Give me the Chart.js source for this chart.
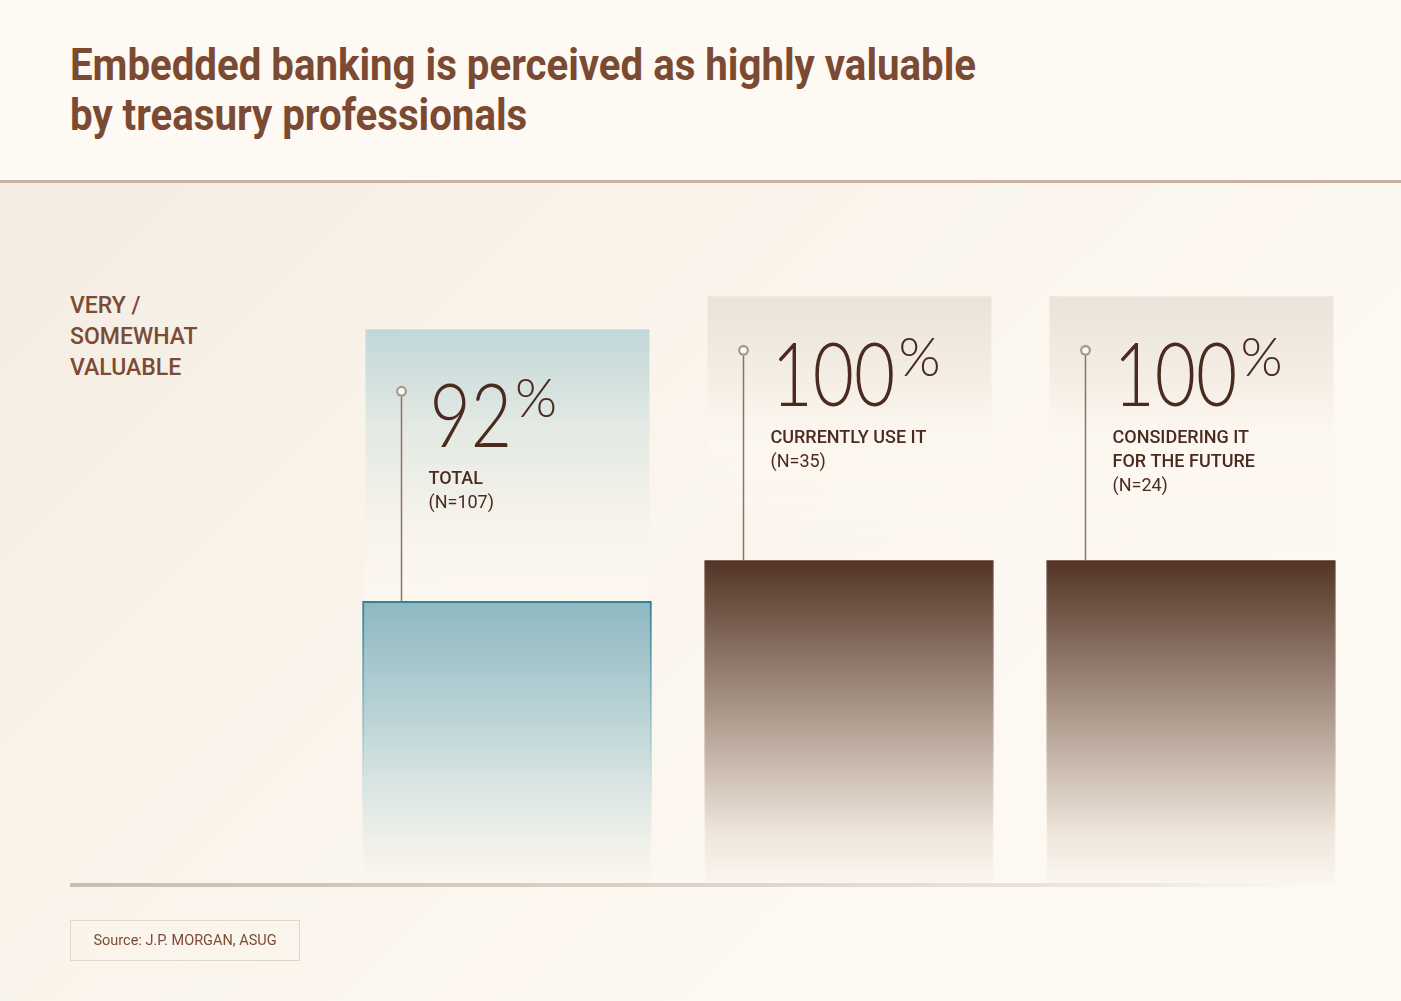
<!DOCTYPE html>
<html>
<head>
<meta charset="utf-8">
<script src="https://cdn.jsdelivr.net/npm/chart.js@4"></script>
<style>
  html, body { margin: 0; padding: 0; }
  body {
    width: 1401px; height: 1001px; position: relative; overflow: hidden;
    background: linear-gradient(135deg, #f3eadf 0%, #f9f3ea 35%, #fdf8f1 70%, #fef9f2 100%);
    font-family: Roboto, sans-serif;
  }
  #header {
    position: absolute; left: 0; top: 0; width: 1401px; height: 180px;
    background: #fef9f2; border-bottom: 3px solid #c8b2a4;
  }
  #title {
    position: absolute; left: 70px; top: 40px; margin: 0;
    font-family: Roboto, sans-serif;
    font-weight: 700; font-size: 45px; line-height: 50px; color: #7b4a33;
    white-space: nowrap; transform-origin: 0 0;
  }
  #sideLabel {
    position: absolute; left: 70px; top: 290px;
    font-family: Roboto, sans-serif; font-weight: 500; font-size: 23px;
    line-height: 31px; color: #7b4b35;
  }
  #source {
    position: absolute; left: 70px; top: 920px; width: 230px; height: 41px;
    border: 1.5px solid #e5d5c5; box-sizing: border-box;
    font-size: 14.5px; color: #7b4b35; text-align: center; line-height: 39px;
  }
  #chart { position: absolute; left: 0; top: 0; }
</style>
</head>
<body>
<div id="header">
  <h1 id="title">Embedded banking is perceived as highly valuable<br>by treasury professionals</h1>
</div>
<div id="sideLabel">VERY /<br>SOMEWHAT<br>VALUABLE</div>
<canvas id="chart" width="1401" height="1001"></canvas>
<div id="source">Source: J.P. MORGAN, ASUG</div>

<script>
// Chart data
var groupLabels = [["TOTAL"], ["CURRENTLY USE IT"], ["CONSIDERING IT", "FOR THE FUTURE"]];
var sampleSizes = ["(N=107)", "(N=35)", "(N=24)"];
var valuablePct = [92, 100, 100];

// the title face is narrow in the original, squeeze Roboto to the same width
(function () {
  var t = document.getElementById("title");
  var w = t.getBoundingClientRect().width;
  t.style.transform = "scaleX(" + (906 / w) + ")";
})();

// teal for the total, brown for the two sub-groups
function isTotal(i) { return i === 0; }

function barFill(c) {
  if (c.type !== "data" || !c.chart.chartArea) return "#8db7c0";
  var y = c.chart.scales.y;
  var top = y.getPixelForValue(c.raw);
  var bottom = y.getPixelForValue(y.min);
  var g = c.chart.ctx.createLinearGradient(0, top, 0, bottom);
  if (isTotal(c.dataIndex)) {
    g.addColorStop(0, "#8fb8c1");
    g.addColorStop(0.35, "#b4cfd3");
    g.addColorStop(0.65, "#d9e5e2");
    g.addColorStop(0.9, "#f3f2ea");
    g.addColorStop(1, "#fbf7f0");
  } else {
    g.addColorStop(0, "#533426");
    g.addColorStop(0.3, "#8c7466");
    g.addColorStop(0.6, "#c3b3a6");
    g.addColorStop(0.85, "#efe6dc");
    g.addColorStop(1, "#faf6ef");
  }
  return g;
}

function barBorder(c) {
  if (c.type !== "data" || !c.chart.chartArea) return "#3d8a9a";
  var y = c.chart.scales.y;
  var top = y.getPixelForValue(c.raw);
  var bottom = y.getPixelForValue(y.min);
  var g = c.chart.ctx.createLinearGradient(0, top, 0, bottom);
  if (isTotal(c.dataIndex)) {
    g.addColorStop(0, "#2f8497");
    g.addColorStop(0.5, "#a9ccd3");
    g.addColorStop(1, "rgba(250,246,238,0)");
  } else {
    g.addColorStop(0, "#6b5040");
    g.addColorStop(0.6, "#d0c2b6");
    g.addColorStop(1, "rgba(250,246,238,0)");
  }
  return g;
}

var annotations = {
  id: "annotations",
  beforeDatasetsDraw: function (chart) {
    var ctx = chart.ctx;
    var meta = chart.getDatasetMeta(0);
    meta.data.forEach(function (bar, i) {
      var left = bar.x - bar.width / 2 + 3;
      var right = bar.x + bar.width / 2 - 2;
      var top = bar.y - (isTotal(i) ? 272 : 264);
      var g = ctx.createLinearGradient(0, top, 0, bar.y);
      if (isTotal(i)) {
        g.addColorStop(0, "#c1d7d9");
        g.addColorStop(0.35, "#e3e9e3");
        g.addColorStop(0.75, "#f8f4ec");
        g.addColorStop(1, "rgba(253,248,241,0.6)");
      } else {
        g.addColorStop(0, "#ebe3d9");
        g.addColorStop(0.35, "#f5efe6");
        g.addColorStop(0.55, "rgba(252,247,240,0.6)");
        g.addColorStop(1, "rgba(253,248,241,0)");
      }
      ctx.save();
      ctx.fillStyle = g;
      ctx.fillRect(left, top, right - left, bar.y - top);
      ctx.restore();
    });

    // baseline
    var base = chart.scales.y.getPixelForValue(chart.scales.y.min);
    var lg = ctx.createLinearGradient(70, 0, chart.chartArea.right - 20, 0);
    lg.addColorStop(0, "#cbbdb0");
    lg.addColorStop(0.5, "#ddd3c6");
    lg.addColorStop(0.85, "#eee9dc");
    lg.addColorStop(1, "rgba(246,242,232,0)");
    ctx.save();
    ctx.fillStyle = lg;
    ctx.fillRect(70, base, chart.chartArea.right - 90, 4);
    ctx.restore();
  },
  afterDatasetsDraw: function (chart) {
    var ctx = chart.ctx;
    var meta = chart.getDatasetMeta(0);
    meta.data.forEach(function (bar, i) {
      var left = bar.x - bar.width / 2;
      var px = left + 39;
      var py = bar.y - 210;
      ctx.save();
      // stem
      ctx.strokeStyle = "#8c7264";
      ctx.lineWidth = 1.5;
      ctx.beginPath();
      ctx.moveTo(px, py + 5);
      ctx.lineTo(px, bar.y);
      ctx.stroke();
      // pin head
      ctx.fillStyle = "#a89a90";
      ctx.beginPath();
      ctx.arc(px, py, 5.5, 0, Math.PI * 2);
      ctx.fill();
      ctx.fillStyle = "#fbf8f3";
      ctx.beginPath();
      ctx.arc(px, py, 3.2, 0, Math.PI * 2);
      ctx.fill();

      // value
      var nx = px + 28;
      var baseLine = py + 56;
      ctx.fillStyle = "#4b2b1f";
      ctx.textBaseline = "alphabetic";
      ctx.textAlign = "left";
      ctx.font = "300 89px Lato";
      var txt = String(valuablePct[i]);
      var w = ctx.measureText(txt).width * 0.8;
      ctx.save();
      ctx.translate(nx, baseLine);
      ctx.scale(0.8, 1);
      ctx.fillText(txt, 0, 0);
      ctx.restore();
      ctx.font = "300 54px Lato";
      ctx.fillText("%", nx + w + 3, baseLine - 30);

      // labels
      var ly = py + 88;
      ctx.textBaseline = "middle";
      ctx.fillStyle = "#4b2b1f";
      ctx.font = "500 18px Roboto";
      groupLabels[i].forEach(function (line) {
        ctx.fillText(line, px + 27, ly);
        ly += 24;
      });
      ctx.font = "400 18px Roboto";
      ctx.fillText(sampleSizes[i], px + 27, ly);
      ctx.restore();
    });
  }
};

var chartCtx = document.getElementById("chart").getContext("2d");
var valueChart = new Chart(chartCtx, {
  type: "bar",
  data: {
    labels: groupLabels.map(function (l) { return l.join(" "); }),
    datasets: [
      {
        label: "Very / somewhat valuable (%)",
        data: valuablePct,
        backgroundColor: barFill,
        borderColor: barBorder,
        borderWidth: function (c) {
          return isTotal(c.dataIndex)
            ? { top: 2, left: 2, right: 2, bottom: 0 }
            : { top: 0, left: 1, right: 1, bottom: 0 };
        },
        borderSkipped: false,
        barThickness: 289,
      },
    ],
  },
  options: {
    responsive: false,
    animation: false,
    layout: { padding: { left: 336, right: 39, top: 294, bottom: 118 } },
    plugins: { legend: { display: false }, tooltip: { enabled: false } },
    scales: {
      x: { display: false },
      y: { display: false, min: 37, max: 152 },
    },
  },
  plugins: [annotations],
});
</script>
</body>
</html>
